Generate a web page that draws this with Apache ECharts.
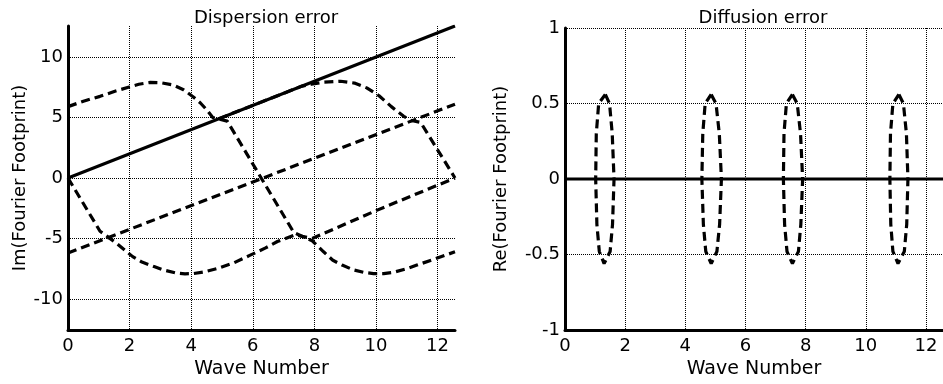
<!DOCTYPE html>
<html>
<head>
<meta charset="utf-8">
<script src="https://cdn.jsdelivr.net/npm/echarts@6/dist/echarts.min.js"></script>
<style>
	html, body { margin: 0; padding: 0; background: #fff; }
	#chart { width: 943px; height: 384px; }
</style>
</head>
<body>
<div id="chart"></div>
<script>
	"use strict";

	/*---- data ----*/
	var waveMax = 12.566;
	var xTicks = [0, 2, 4, 6, 8, 10, 12];
	var dispTicks = [-10, -5, 0, 5, 10];

	// Dispersion error
	var exactLine = [[0, 0], [12.566, 12.566]];
	var offsetLine = [[0, -6.2], [12.566, 6.1]];
	var upperCurve = [
		[0, 5.9], [0.5, 6.35], [1.04, 6.75], [1.5, 7.15], [1.96, 7.5], [2.3, 7.75], [2.67, 7.9],
		[3.0, 7.88], [3.4, 7.7], [3.75, 7.3], [4.07, 6.7], [4.3, 6.2], [4.5, 5.65], [4.7, 5.0],
		[5.17, 4.7], [7.33, -4.5], [7.93, -5.2], [8.3, -6.1], [8.6, -6.8], [8.9, -7.2],
		[9.27, -7.6], [9.6, -7.8], [9.92, -7.9], [10.25, -7.9], [10.57, -7.8], [11.0, -7.5],
		[11.33, -7.2], [11.9, -6.7], [12.566, -6.1]
	];
	var lowerCurve = [
		[0, 0], [1.04, -4.4], [1.58, -5.4], [2.1, -6.5], [2.4, -6.95], [2.77, -7.3], [3.1, -7.6],
		[3.5, -7.85], [3.8, -7.92], [4.07, -7.9], [4.45, -7.75], [4.83, -7.5], [5.4, -7.0],
		[5.9, -6.4], [6.4, -5.8], [6.8, -5.25], [7.38, -4.7], [7.93, -5.0], [10.0, -2.7], [12.566, 0]
	];
	var diagCurve = [
		[4.9, 4.9], [7.6, 7.6], [7.9, 7.75], [8.3, 7.92], [8.85, 8.0], [9.3, 7.85], [9.7, 7.45],
		[10.1, 6.8], [10.5, 5.9], [10.9, 5.1], [11.15, 4.75], [11.45, 4.6], [12.566, 0]
	];

	// Diffusion error
	var zeroLine = [[0, 0], [12.566, 0]];
	var loop1 = [[1.34, 0.56], [1.48, 0.5], [1.57, 0.3], [1.63, 0], [1.58, -0.3], [1.5, -0.48], [1.3, -0.56], [1.14, -0.48], [1.06, -0.3], [1.02, 0], [1.04, 0.3], [1.12, 0.5], [1.34, 0.56]];
	var loop2 = [[4.86, 0.56], [5.02, 0.5], [5.13, 0.3], [5.2, 0], [5.14, -0.3], [5.05, -0.48], [4.86, -0.56], [4.68, -0.48], [4.6, -0.3], [4.55, 0], [4.58, 0.3], [4.66, 0.5], [4.86, 0.56]];
	var loop3 = [[7.56, 0.56], [7.72, 0.5], [7.83, 0.3], [7.9, 0], [7.84, -0.3], [7.76, -0.48], [7.56, -0.56], [7.38, -0.48], [7.3, -0.3], [7.26, 0], [7.28, 0.3], [7.36, 0.5], [7.56, 0.56]];
	var loop4 = [[11.1, 0.56], [11.25, 0.5], [11.35, 0.3], [11.4, 0], [11.36, -0.3], [11.28, -0.48], [11.07, -0.56], [10.9, -0.48], [10.83, -0.3], [10.8, 0], [10.82, 0.3], [10.9, 0.5], [11.1, 0.56]];

	var font = 'DejaVu Sans';
	var dash = [9, 5];
	var gridDots = { color: '#000', width: 1, type: [1, 1] };

	function xAxisFor(idx) {
		return {
			type: 'value', gridIndex: idx, min: 0, max: waveMax,
			name: 'Wave Number', nameLocation: 'middle', nameGap: 30,
			nameTextStyle: { fontFamily: font, fontSize: 19, color: '#000' },
			axisLine: { show: true, onZero: false, lineStyle: { color: '#000', width: 3 } },
			axisTick: { show: false, customValues: xTicks },
			axisLabel: { customValues: xTicks, margin: 7, fontFamily: font, fontSize: 18, color: '#000' },
			splitLine: { show: true, lineStyle: gridDots }
		};
	}

	function lineSeries(data, xi, dashed, width) {
		return {
			type: 'line', data: data, xAxisIndex: xi, yAxisIndex: xi,
			symbol: 'none', smooth: false, clip: true, silent: true,
			lineStyle: { color: '#000', width: width || 3.2, type: dashed ? dash : 'solid' }
		};
	}

	var chart = echarts.init(document.getElementById('chart'), null, { renderer: 'canvas' });
	chart.setOption({
		animation: false,
		backgroundColor: '#fff',
		title: [
			{ text: 'Dispersion error', left: 261, top: 4, textAlign: 'center',
			  textStyle: { fontFamily: font, fontSize: 18, fontWeight: 'normal', color: '#000' } },
			{ text: 'Diffusion error', left: 758, top: 4, textAlign: 'center',
			  textStyle: { fontFamily: font, fontSize: 18, fontWeight: 'normal', color: '#000' } }
		],
		grid: [
			{ left: 68, top: 26, width: 387, height: 306 },
			{ left: 565, top: 28, width: 390, height: 304 }
		],
		xAxis: [xAxisFor(0), xAxisFor(1)],
		yAxis: [
			{
				type: 'value', gridIndex: 0, min: -waveMax, max: waveMax,
				name: 'Im(Fourier Footprint)', nameLocation: 'middle', nameGap: 38,
				nameTextStyle: { fontFamily: font, fontSize: 18, color: '#000' },
				axisLine: { show: true, onZero: false, lineStyle: { color: '#000', width: 3 } },
				axisTick: { show: false, customValues: dispTicks },
				axisLabel: { customValues: dispTicks, margin: 5, fontFamily: font, fontSize: 18, color: '#000' },
				splitLine: { show: true, lineStyle: gridDots }
			},
			{
				type: 'value', gridIndex: 1, min: -1, max: 1, interval: 0.5,
				name: 'Re(Fourier Footprint)', nameLocation: 'middle', nameGap: 55,
				nameTextStyle: { fontFamily: font, fontSize: 18, color: '#000' },
				axisLine: { show: true, onZero: false, lineStyle: { color: '#000', width: 3 } },
				axisTick: { show: false },
				axisLabel: { margin: 5, fontFamily: font, fontSize: 18, color: '#000' },
				splitLine: { show: true, lineStyle: gridDots }
			}
		],
		series: [
			lineSeries(exactLine, 0, false, 3),
			lineSeries(offsetLine, 0, true),
			lineSeries(upperCurve, 0, true),
			lineSeries(lowerCurve, 0, true),
			lineSeries(diagCurve, 0, true),
			lineSeries(zeroLine, 1, false, 3),
			lineSeries(loop1, 1, true),
			lineSeries(loop2, 1, true),
			lineSeries(loop3, 1, true),
			lineSeries(loop4, 1, true)
		]
	});
</script>
</body>
</html>
